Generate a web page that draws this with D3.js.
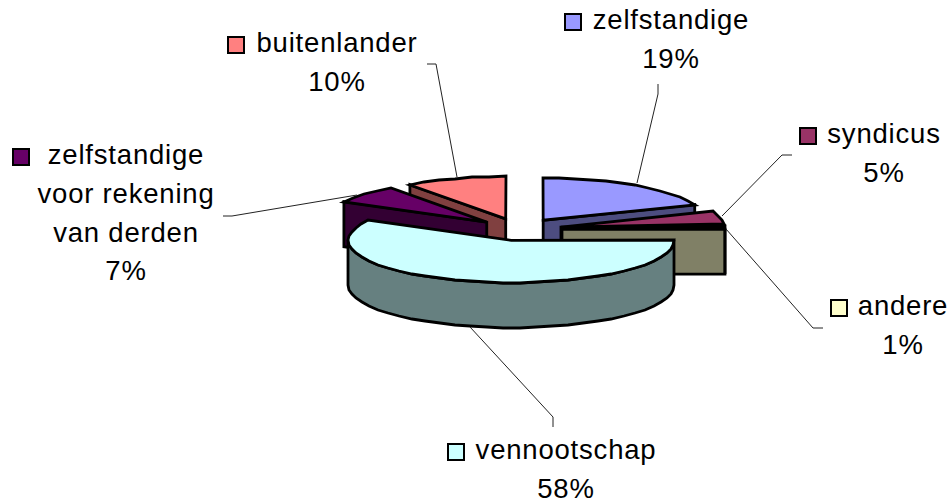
<!DOCTYPE html>
<html>
<head>
<meta charset="utf-8">
<script src="https://cdn.jsdelivr.net/npm/d3@7"></script>
<style>
html, body { margin: 0; padding: 0; background: #fff; }
text { font-family: "Liberation Sans", Arial, sans-serif; font-size: 27.5px; letter-spacing: 0.8px; fill: #000; }
</style>
</head>
<body>
<div id="chart"></div>
<script>
var categories = ["zelfstandige", "syndicus", "andere", "vennootschap", "zelfstandige voor rekening van derden", "buitenlander"];
var values = [19, 5, 1, 58, 7, 10];
var topColors = ["#9999FF", "#993366", "#FFFFCC", "#CCFFFF", "#660066", "#FF8080"];
var wallColors = ["#4D4D80", "#4D1A33", "#808066", "#668080", "#330033", "#804040"];
var labelLines = [["zelfstandige"], ["syndicus"], ["andere"], ["vennootschap"], ["zelfstandige", "voor rekening", "van derden"], ["buitenlander"]];

var width = 950, height = 501;
var cx = 519, cy = 229.5, radius = 163, squash = 0.26, depth = 45, explode = 43;
var lineHeight = 38.8;
var stroke = 2.8;

// label anchor (text centre, first baseline), swatch x and leader per slice
var labelPos = [
  {x: 671, y: 29, swatch: 565, leader: [[658, 84], [658, 94], [637, 183]]},
  {x: 884, y: 143, swatch: 800, leader: [[792, 155], [782, 155], [722, 216]]},
  {x: 903, y: 315, swatch: 831, leader: [[823, 328], [813, 328], [726, 229]]},
  {x: 566, y: 459, swatch: 448, leader: [[553, 427], [553, 417], [470, 327]]},
  {x: 126, y: 164, swatch: 13, leader: [[223, 216], [232, 216], [357, 195]]},
  {x: 337, y: 52, swatch: 228, leader: [[427, 64], [436, 64], [457, 177]]}
];

var svg = d3.select("#chart").append("svg")
  .attr("width", width)
  .attr("height", height)
  .style("display", "block");

var pie = d3.pie().sort(null).startAngle(0).endAngle(2 * Math.PI);
var arcs = pie(values);

var line = d3.line().curve(d3.curveLinear);

function project(o, r, a) {
  return [o[0] + r * Math.sin(a), o[1] - squash * r * Math.cos(a)];
}
function drop(p) {
  return [p[0], p[1] + depth];
}
// rim as a coarse, pixel-rounded polyline, the reference arcs are jagged too
function rim(o, a0, a1) {
  var pts = [];
  var n = Math.max(1, Math.round((a1 - a0) / 0.1));
  for (var i = 0; i <= n; i++) {
    var p = project(o, radius, a0 + (a1 - a0) * i / n);
    pts.push([Math.round(p[0]), Math.round(p[1])]);
  }
  return pts;
}

function drawFace(pts, fill) {
  svg.append("path")
    .attr("d", line(pts) + "Z")
    .attr("fill", fill)
    .attr("stroke", "#000")
    .attr("stroke-width", stroke)
    .attr("stroke-linejoin", "miter");
}

// slices drawn back to front: right side, then left, big front slice last
var order = [0, 1, 2, 5, 4, 3];

order.forEach(function(i) {
  var d = arcs[i];
  var a = d.startAngle, b = d.endAngle;
  var o = project([cx, cy], explode, (a + b) / 2);
  // big slice sits a little to the right in the reference
  if (i == 3) o = [o[0] + 3, o[1]];

  // radial wall that faces the viewer
  if (b <= Math.PI / 2 + 0.01) {
    var p = project(o, radius, b);
    drawFace([o, p, drop(p), drop(o)], wallColors[i]);
  }
  if (a > Math.PI) {
    var q = project(o, radius, a);
    drawFace([q, o, drop(o), drop(q)], wallColors[i]);
  }

  // outer wall on the front half of the rim
  var w0 = Math.max(a, Math.PI / 2), w1 = Math.min(b, 3 * Math.PI / 2);
  if (w1 > w0) {
    var r = rim(o, w0, w1);
    drawFace(r.concat(r.map(drop).reverse()), wallColors[i]);
  }

  drawFace([o].concat(rim(o, a, b)), topColors[i]);
});

// leader lines
labelPos.forEach(function(l) {
  svg.append("path")
    .attr("d", line(l.leader))
    .attr("fill", "none")
    .attr("stroke", "#222")
    .attr("stroke-width", 1);
});

// labels
categories.forEach(function(c, i) {
  var l = labelPos[i];
  var rows = labelLines[i].concat([values[i] + "%"]);
  rows.forEach(function(t, j) {
    svg.append("text")
      .attr("x", l.x)
      .attr("y", l.y + j * lineHeight)
      .attr("text-anchor", "middle")
      .text(t);
  });
  svg.append("rect")
    .attr("x", l.swatch)
    .attr("y", l.y - 15)
    .attr("width", 16)
    .attr("height", 16)
    .attr("fill", topColors[i])
    .attr("stroke", "#000")
    .attr("stroke-width", 2);
});
</script>
</body>
</html>
